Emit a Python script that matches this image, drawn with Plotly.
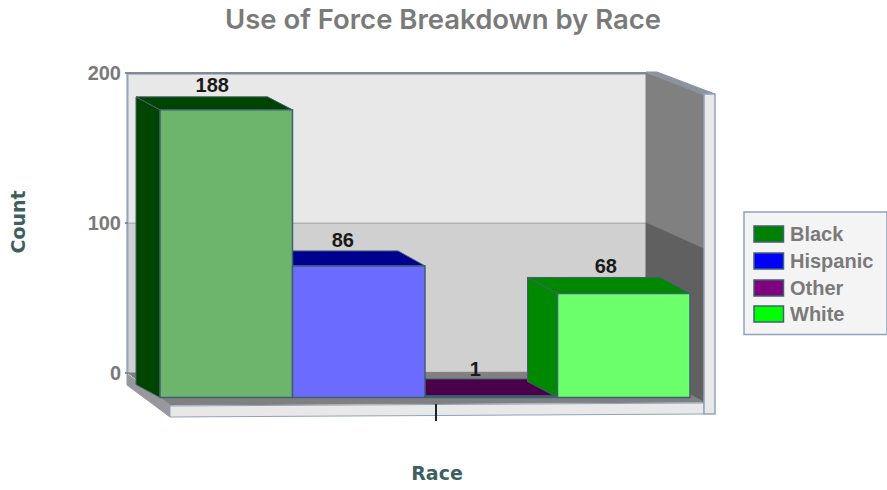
import plotly.graph_objects as go

categories = ["Black", "Hispanic", "Other", "White"]
counts = [188, 86, 1, 68]
y_ticks = [0, 100, 200]

front_colors = ["#6db56d", "#6b6bff", "#a860a8", "#6bff6b"]
depth_colors = ["#004400", "#000090", "#4a0048", "#008800"]
legend_colors = ["#008000", "#0000ff", "#800080", "#00ff00"]
depth_dx_left = [24, 26, 26, 30]
depth_dx_right = [25, 27, 30, 30]
depth_dy = [13, 15, 17, 16]
label_gap = [10, 9, 8, 9]
label_dx = [-14, -16, -16, -18]

W, H = 887, 490
DOM_R, DOM_B = 874, 444
BAR_L, BAR_W = 160, 132.5
FRONT_0, FRONT_S = 397.5, 1.53
WALL_0, WALL_S = 373, 1.5
EDGE = "#3f6070"
FRAME = "#8fa3bb"
GRAY = "#7a7a7a"


def idx(px):
    return (px - BAR_L) / BAR_W - 0.5


def wall_val(py):
    return (WALL_0 - py) / WALL_S


def front_px(v):
    return FRONT_0 - FRONT_S * v


def poly(points, fill, line=None, width=1):
    d = "M" + "L".join(f"{x / W:.5f},{1 - y / H:.5f}" for x, y in points) + "Z"
    return dict(type="path", xref="paper", yref="paper", path=d, fillcolor=fill,
                line=dict(color=line or fill, width=width), layer="below")


shapes = [
    poly([(127, 73), (646, 73), (646, 223), (127, 223)], "#e8e8e8"),
    poly([(127, 223), (646, 223), (646, 374), (127, 374)], "#d0d0d0"),
    poly([(127, 72.5), (646, 72.5), (646, 74), (127, 74)], "#808a96"),
    poly([(127, 73), (128, 73), (128, 374), (127, 374)], FRAME),
    poly([(127, 223), (646, 223), (646, 223.5), (127, 223.5)], "#a8a8a8", "#a8a8a8", 0.5),
    poly([(646, 73), (704, 94), (704, 249), (646, 223)], "#808080"),
    poly([(646, 223), (704, 249), (704, 403), (646, 373)], "#606060"),
    poly([(646, 72), (657, 72), (715, 94), (704, 95)], "#8a94a0"),
    poly([(128, 373), (646, 372), (704, 402), (170, 405)], "#808080"),
    poly([(127, 374), (170, 405), (170, 417), (127, 385)], "#98989c"),
    poly([(170, 406), (704, 403), (704, 414), (170, 417)], "#e8e8e8", FRAME, 1),
    poly([(704, 94), (715, 94), (715, 414), (704, 414)], "#e8e8e8", FRAME, 1.5),
    poly([(744, 212), (887, 212), (887, 334.5), (744, 334.5)], "#f4f4f4", FRAME, 1.5),
]

legend_rows = [234, 261, 288, 314]
annotations = []
for name, color, row in zip(categories, legend_colors, legend_rows):
    shapes.append(dict(type="rect", xref="paper", yref="paper", layer="above",
                       x0=754 / W, x1=783.5 / W, y0=1 - (row - 8) / H, y1=1 - (row + 8) / H,
                       fillcolor=color, line=dict(color="#3f6070", width=1.5)))
    annotations.append(dict(xref="paper", yref="paper", x=788 / W, y=1 - row / H,
                            text=name, showarrow=False, xanchor="left", yanchor="middle",
                            font=dict(family="Liberation Sans", size=20, color=GRAY, weight="bold")))

fig = go.Figure()

# depth faces follow each bar's value; they sit beneath the front faces
for i, (v, c) in enumerate(zip(counts, depth_colors)):
    xl, xr = idx(BAR_L + i * BAR_W), idx(BAR_L + (i + 1) * BAR_W)
    top, base = front_px(v), front_px(0)
    dy = depth_dy[i]
    bl = xl - depth_dx_left[i] / BAR_W
    br = xr - depth_dx_right[i] / BAR_W
    side_x = [xl, bl, bl, xl, xl]
    side_y = [wall_val(p) for p in (top, top - dy, base - dy, base, top)]
    top_x = [xl, bl, br, xr, xl]
    top_y = [wall_val(p) for p in (top, top - dy, top - dy, top, top)]
    for xs, ys in ((side_x, side_y), (top_x, top_y)):
        fig.add_trace(go.Scatter(x=xs, y=ys, mode="lines", fill="toself", fillcolor=c,
                                 line=dict(color=EDGE, width=1), showlegend=False,
                                 hoverinfo="skip", xaxis="x", yaxis="y"))

fig.add_trace(go.Scatter(
    x=[i + label_dx[i] / BAR_W for i in range(4)],
    y=[wall_val(front_px(v) - depth_dy[i] - label_gap[i]) for i, v in enumerate(counts)],
    mode="text", text=[str(v) for v in counts], textposition="middle center",
    textfont=dict(family="Liberation Sans", size=20, color="#1a1a1a", weight="bold"),
    showlegend=False, hoverinfo="skip", xaxis="x", yaxis="y"))

for name, v, c in zip(categories, counts, front_colors):
    fig.add_trace(go.Bar(x=[name], y=[v], name=name, width=1, showlegend=False,
                         marker=dict(color=c, line=dict(color=EDGE, width=1.5)),
                         xaxis="x2", yaxis="y2"))

fig.update_layout(
    width=W, height=H, autosize=False, margin=dict(l=0, r=0, t=0, b=0),
    paper_bgcolor="white", plot_bgcolor="rgba(0,0,0,0)", barmode="overlay",
    showlegend=False, shapes=shapes, annotations=annotations,
    font=dict(family="Liberation Sans"),
    title=dict(text="Use of Force Breakdown by Race", x=443 / W, xanchor="center",
               y=1 - 19 / H, yanchor="middle", yref="container",
               font=dict(family="Inter", size=27.5, color=GRAY, weight=600)),
    xaxis=dict(domain=[0, DOM_R / W], range=[idx(0), idx(DOM_R)], anchor="free",
               position=1 - 403 / H, showgrid=False, zeroline=False, showline=False,
               tickmode="array", tickvals=[idx(436)], ticktext=[""], ticks="outside",
               ticklen=17, tickwidth=1.5, tickcolor="#222222",
               title=dict(text="Race", standoff=44,
                          font=dict(family="DejaVu Sans", size=19, color="#3f5f5f", weight="bold"))),
    yaxis=dict(domain=[1 - DOM_B / H, 1], range=[wall_val(DOM_B), wall_val(0)], anchor="free",
               position=128 / W, showgrid=False, zeroline=False, showline=False,
               tickmode="array", tickvals=y_ticks, ticks="outside", ticklen=3, tickwidth=1.5,
               tickcolor="#808a96",
               tickfont=dict(family="Liberation Sans", size=20, color=GRAY, weight="bold"),
               title=dict(text="Count", standoff=55,
                          font=dict(family="DejaVu Sans", size=19, color="#3f5f5f", weight="bold"))),
    xaxis2=dict(overlaying="x", domain=[0, DOM_R / W], type="category", categoryorder="array",
                categoryarray=categories, range=[idx(0), idx(DOM_R)], visible=False),
    yaxis2=dict(overlaying="y", domain=[1 - DOM_B / H, 1],
                range=[(FRONT_0 - DOM_B) / FRONT_S, FRONT_0 / FRONT_S], visible=False),
)

fig.write_html("out.html", config={"displayModeBar": False},
               post_script="document.body.style.margin='0';window.dispatchEvent(new Event('resize'));")
